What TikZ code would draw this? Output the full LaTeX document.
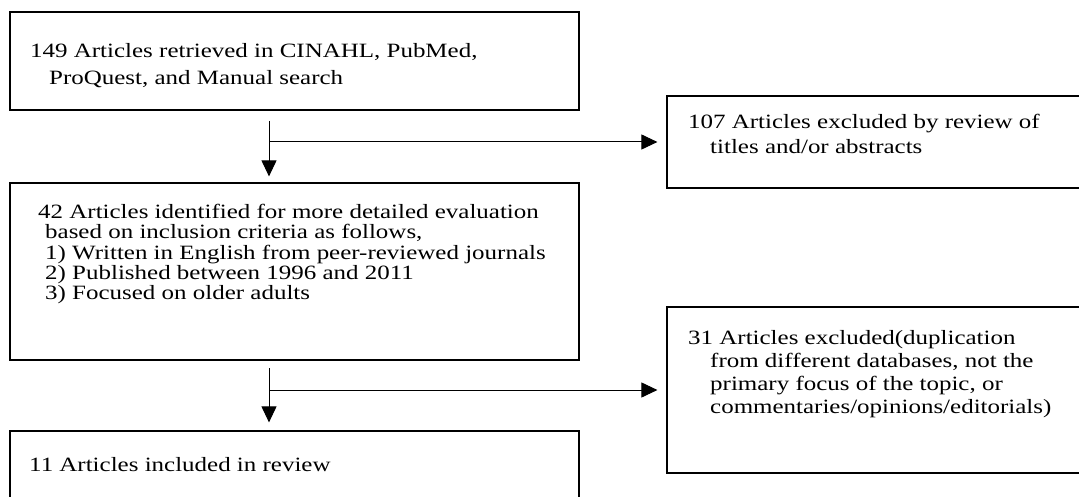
\documentclass[tikz,border=0pt]{standalone}
\usepackage{fontspec}
\setmainfont{Liberation Serif}[FakeStretch=1.23]
\usetikzlibrary{arrows.meta}
\begin{document}
\begin{tikzpicture}[x=1pt,y=-1pt,
  box/.style={draw=black,line width=1.2pt,rectangle,inner sep=0pt},
  txt/.style={anchor=base west,inner sep=0pt,font=\fontsize{20.3}{21}\selectfont},
  arr/.style={line width=1pt,-{Triangle[length=16pt,width=15pt]}}]
\useasboundingbox (0,0) rectangle (1079,497);
\clip (0,0) rectangle (1079,497);
% boxes
\node[box,minimum width=569pt,minimum height=98pt] (b1) at (294.5,61) {};
\node[box,minimum width=569pt,minimum height=177pt] (b2) at (294.5,271.5) {};
\node[box,minimum width=569pt,minimum height=74pt] (b3) at (294.5,468) {};
\node[box,minimum width=428pt,minimum height=92pt] (r1) at (881,142) {};
\node[box,minimum width=428pt,minimum height=166pt] (r2) at (881,390) {};
% texts
\node[txt] (t1a) at (30,57.5) {149 Articles retrieved in CINAHL, PubMed,};
\node[txt] (t1b) at (49,84.5) {ProQuest, and Manual search};
\node[txt] (t2a) at (38,219) {42 Articles identified for more detailed evaluation};
\node[txt] (t2b) at (45,239) {based on inclusion criteria as follows,};
\node[txt] (t2c) at (45,259) {1) Written in English from peer-reviewed journals};
\node[txt] (t2d) at (45,279) {2) Published between 1996 and 2011};
\node[txt] (t2e) at (45,299) {3) Focused on older adults};
\node[txt] (t3a) at (29,471) {11 Articles included in review};
\node[txt] (r1a) at (688,129) {107 Articles excluded by review of};
\node[txt] (r1b) at (710,154) {titles and/or abstracts};
\node[txt] (r2a) at (688,344) {31 Articles excluded(duplication};
\node[txt] (r2b) at (710,367) {from different databases, not the};
\node[txt] (r2c) at (710,390) {primary focus of the topic, or};
\node[txt] (r2d) at (710,413) {commentaries/opinions/editorials)};
% connectors
\coordinate (s1) at (269,121);
\coordinate (s2) at (269,368);
\draw[arr,shorten >=6pt] (s1) -- (s1 |- b2.north);
\draw[arr,shorten >=9pt] (s1 |- r1.west) -- (r1.west);
\draw[arr,shorten >=8pt] (s2) -- (s2 |- b3.north);
\draw[arr,shorten >=9pt] (s2 |- r2.west) -- (r2.west);
\end{tikzpicture}
\end{document}
